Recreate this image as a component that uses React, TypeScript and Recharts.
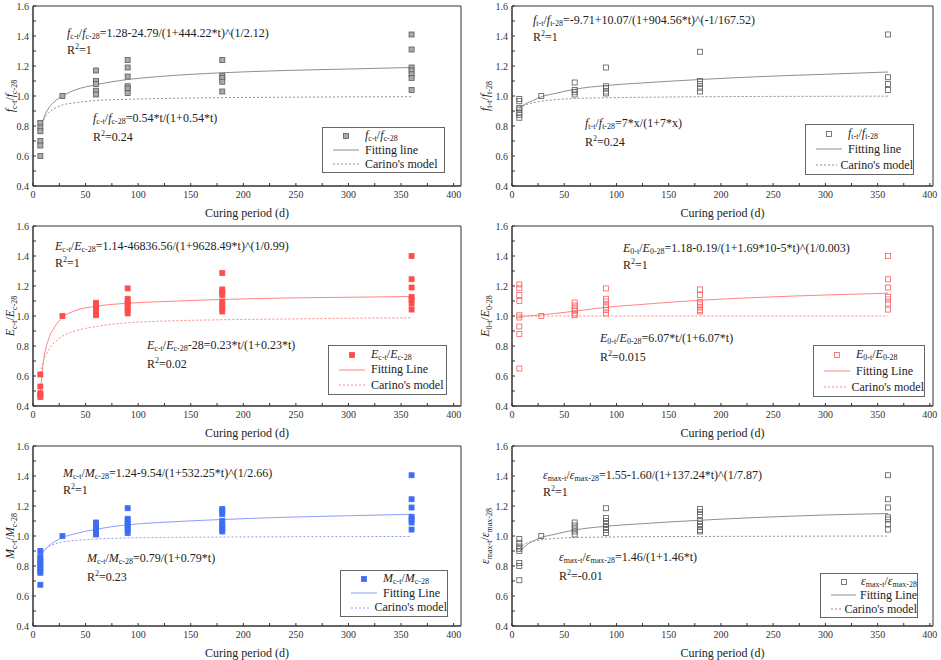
import React from "react";
import { ComposedChart, Line, Scatter, XAxis, YAxis, ReferenceArea } from "recharts";

const FONT = '"Liberation Serif", "Times New Roman", serif';

// curing ages (d) of the measured points
const AGES = [7, 28, 60, 90, 180, 360];
const CURVE_T = [7, 10, 15, 20, 28, 40, 60, 90, 120, 180, 240, 300, 360];

const X_TICKS = [0, 25, 50, 75, 100, 125, 150, 175, 200, 225, 250, 275, 300, 325, 350, 375, 400];
const Y_TICKS = [0.4, 0.5, 0.6, 0.7, 0.8, 0.9, 1.0, 1.1, 1.2, 1.3, 1.4, 1.5, 1.6];

// compressive strength
const FC_MEASURED = [
  [0.82, 0.79, 0.765, 0.7, 0.67, 0.6],
  [1.0],
  [1.17, 1.1, 1.08, 1.035, 1.01],
  [1.24, 1.19, 1.13, 1.065, 1.05, 1.02],
  [1.24, 1.135, 1.12, 1.095, 1.03],
  [1.41, 1.31, 1.19, 1.17, 1.145, 1.12, 1.04],
];
const FC_FIT = [0.78, 0.85, 0.92, 0.96, 1.0, 1.04, 1.075, 1.11, 1.13, 1.155, 1.17, 1.18, 1.19];
const FC_CARINO = [0.79, 0.84, 0.89, 0.915, 0.94, 0.955, 0.97, 0.978, 0.983, 0.989, 0.992, 0.994, 0.995];

// tensile strength
const FT_MEASURED = [
  [0.98, 0.965, 0.92, 0.91, 0.89, 0.875, 0.855],
  [1.0],
  [1.09, 1.04, 1.025, 1.01],
  [1.19, 1.065, 1.05, 1.03, 1.017],
  [1.295, 1.1, 1.08, 1.055, 1.03],
  [1.41, 1.125, 1.08, 1.04],
];
const FT_FIT = [0.92, 0.935, 0.955, 0.97, 0.995, 1.015, 1.045, 1.07, 1.085, 1.11, 1.13, 1.145, 1.16];
const FT_CARINO = [0.915, 0.93, 0.945, 0.955, 0.965, 0.975, 0.983, 0.988, 0.991, 0.995, 0.997, 0.998, 0.999];

// elastic modulus
const EC_MEASURED = [
  [0.61, 0.53, 0.485, 0.475, 0.46],
  [1.0],
  [1.088, 1.07, 1.05, 1.035, 1.017, 1.005],
  [1.184, 1.115, 1.097, 1.08, 1.057, 1.035, 1.017],
  [1.286, 1.177, 1.16, 1.14, 1.097, 1.072, 1.05, 1.03],
  [1.4, 1.245, 1.19, 1.128, 1.11, 1.083, 1.043],
];
const EC_FIT = [0.5, 0.7, 0.85, 0.92, 0.99, 1.035, 1.065, 1.085, 1.095, 1.11, 1.12, 1.125, 1.13];
const EC_CARINO = [0.62, 0.7, 0.775, 0.82, 0.865, 0.9, 0.93, 0.955, 0.965, 0.975, 0.98, 0.985, 0.988];

// initial modulus
const E0_MEASURED = [
  [1.21, 1.185, 1.14, 1.1, 1.005, 0.99, 0.93, 0.88, 0.65],
  [1.0],
  [1.09, 1.07, 1.05, 1.035, 1.017, 1.005],
  [1.184, 1.115, 1.097, 1.072, 1.057, 1.04, 1.017],
  [1.177, 1.14, 1.095, 1.077, 1.057, 1.04, 1.03],
  [1.4, 1.245, 1.19, 1.128, 1.11, 1.083, 1.043],
];
const E0_FIT = [0.995, 0.998, 1.0, 1.003, 1.008, 1.016, 1.032, 1.058, 1.075, 1.105, 1.125, 1.14, 1.152];
const E0_CARINO = [0.997, 0.998, 0.999, 0.999, 1.0, 1.0, 1.0, 1.0, 1.0, 1.0, 1.0, 1.0, 1.0];

// M
const MC_MEASURED = [
  [0.9, 0.86, 0.845, 0.825, 0.81, 0.79, 0.77, 0.755, 0.675],
  [1.0],
  [1.09, 1.07, 1.055, 1.04, 1.02, 1.01],
  [1.185, 1.115, 1.1, 1.08, 1.06, 1.04, 1.02],
  [1.18, 1.165, 1.145, 1.1, 1.08, 1.06, 1.045, 1.03],
  [1.405, 1.245, 1.19, 1.128, 1.11, 1.09, 1.043],
];
const MC_FIT = [0.86, 0.895, 0.935, 0.96, 0.99, 1.015, 1.045, 1.075, 1.09, 1.11, 1.125, 1.135, 1.145];
const MC_CARINO = [0.87, 0.9, 0.93, 0.945, 0.96, 0.97, 0.98, 0.987, 0.99, 0.993, 0.995, 0.996, 0.997];

// peak strain
const EM_MEASURED = [
  [0.98, 0.955, 0.93, 0.915, 0.9, 0.82, 0.8, 0.705],
  [1.0],
  [1.09, 1.07, 1.05, 1.03, 1.01],
  [1.185, 1.12, 1.1, 1.08, 1.06, 1.04, 1.02],
  [1.18, 1.16, 1.14, 1.1, 1.08, 1.06, 1.04, 1.03],
  [1.405, 1.245, 1.19, 1.125, 1.11, 1.08, 1.043],
];
const EM_FIT = [0.895, 0.915, 0.945, 0.965, 0.99, 1.01, 1.04, 1.065, 1.08, 1.105, 1.125, 1.14, 1.15];
const EM_CARINO = [0.915, 0.935, 0.955, 0.965, 0.975, 0.983, 0.99, 0.993, 0.995, 0.997, 0.998, 0.999, 1.0];

const toPoints = (measured: number[][]) => AGES.flatMap((t, i) => measured[i].map((v) => ({ t, v })));
const toCurve = (fit: number[], carino: number[]) => CURVE_T.map((t, i) => ({ t, fit: fit[i], carino: carino[i] }));

const GRAY = { fill: "#ababab", stroke: "#5a5a5a", line: "#8f8f8f" };
const GRAY_OPEN = { fill: "none", stroke: "#5a5a5a", line: "#8f8f8f" };
const RED = { fill: "#ff4d4d", stroke: "#ff4d4d", line: "#ff8585" };
const RED_OPEN = { fill: "none", stroke: "#ff5c5c", line: "#ff8585" };
const BLUE = { fill: "#3d6df2", stroke: "#3d6df2", line: "#8c9df7" };

const PANELS = [
  {
    key: "fc", left: 0, top: 0, width: 470, yw: 33, rm: 9, xMax: 407, titleX: 10,
    s: "f", a: "c-t", b: "c-28", color: GRAY, fitLabel: "Fitting line",
    points: toPoints(FC_MEASURED), curve: toCurve(FC_FIT, FC_CARINO),
    eq1: "=1.28-24.79/(1+444.22*t)^(1/2.12)", r1: "1", eq2: "=0.54*t/(1+0.54*t)", r2: "0.24",
    e1: [67, 26], e2: [93, 111], lg: [322, 127, 123, 46],
  },
  {
    key: "ft", left: 470, top: 0, width: 471, yw: 42, rm: 8, xMax: 403, titleX: 15,
    s: "f", a: "t-t", b: "t-28", color: GRAY_OPEN, fitLabel: "Fitting line",
    points: toPoints(FT_MEASURED), curve: toCurve(FT_FIT, FT_CARINO),
    eq1: "=-9.71+10.07/(1+904.56*t)^(-1/167.52)", r1: "1", eq2: "=7*x/(1+7*x)", r2: "0.24",
    e1: [63, 13], e2: [115, 116], lg: [335, 124, 109, 51],
  },
  {
    key: "ec", left: 0, top: 220, width: 470, yw: 33, rm: 9, xMax: 407, titleX: 10,
    s: "E", a: "c-t", b: "c-28", color: RED, fitLabel: "Fitting Line",
    points: toPoints(EC_MEASURED), curve: toCurve(EC_FIT, EC_CARINO),
    eq1: "=1.14-46836.56/(1+9628.49*t)^(1/0.99)", r1: "1", eq2: "-28=0.23*t/(1+0.23*t)", r2: "0.02",
    e1: [55, 19], e2: [147, 118], lg: [328, 125, 119, 50],
  },
  {
    key: "e0", left: 470, top: 220, width: 471, yw: 42, rm: 8, xMax: 403, titleX: 15,
    s: "E", a: "0-t", b: "0-28", color: RED_OPEN, fitLabel: "Fitting Line",
    points: toPoints(E0_MEASURED), curve: toCurve(E0_FIT, E0_CARINO),
    eq1: "=1.18-0.19/(1+1.69*10-5*t)^(1/0.003)", r1: "1", eq2: "=6.07*t/(1+6.07*t)", r2: "0.015",
    e1: [153, 21], e2: [130, 111], lg: [343, 125, 112, 52],
  },
  {
    key: "mc", left: 0, top: 440, width: 470, yw: 33, rm: 9, xMax: 407, titleX: 10,
    s: "M", a: "c-t", b: "c-28", color: BLUE, fitLabel: "Fitting Line",
    points: toPoints(MC_MEASURED), curve: toCurve(MC_FIT, MC_CARINO),
    eq1: "=1.24-9.54/(1+532.25*t)^(1/2.66)", r1: "1", eq2: "=0.79/(1+0.79*t)", r2: "0.23",
    e1: [63, 26], e2: [87, 111], lg: [340, 130, 108, 47],
  },
  {
    key: "em", left: 470, top: 440, width: 471, yw: 42, rm: 8, xMax: 403, titleX: 15,
    s: "\u03b5", a: "max-t", b: "max-28", color: GRAY_OPEN, fitLabel: "Fitting Line",
    points: toPoints(EM_MEASURED), curve: toCurve(EM_FIT, EM_CARINO),
    eq1: "=1.55-1.60/(1+137.24*t)^(1/7.87)", r1: "1", eq2: "=1.46/(1+1.46*t)", r2: "-0.01",
    e1: [73, 28], e2: [89, 110], lg: [350, 133, 98, 45],
  },
];

const Sub = ({ children }: any) => (
  <span style={{ fontSize: 8, lineHeight: "8px", verticalAlign: "-2px" }}>{children}</span>
);

const Ratio = ({ s, a, b }: any) => (
  <>
    <i>{s}</i>
    <Sub>{a}</Sub>/<i>{s}</i>
    <Sub>{b}</Sub>
  </>
);

// rotated y title with subscripts
const YTitle = ({ viewBox, s, a, b, lx }: any) => {
  const cy = viewBox ? viewBox.y + viewBox.height / 2 : 96;
  const x = lx + 4;
  return (
    <text x={x} y={cy} transform={`rotate(-90 ${x} ${cy})`} textAnchor="middle" fontFamily={FONT} fontSize={12} fill="#222">
      <tspan fontStyle="italic">{s}</tspan>
      <tspan fontSize={8} dy={3}>{a}</tspan>
      <tspan dy={-3}>/</tspan>
      <tspan fontStyle="italic">{s}</tspan>
      <tspan fontSize={8} dy={3}>{b}</tspan>
    </text>
  );
};

const square = (c: any) => (props: any) =>
  <rect x={props.cx - 2.5} y={props.cy - 2.5} width={5} height={5} fill={c.fill} stroke={c.stroke} strokeWidth={0.8} />;

const tickStyle = { fontSize: 10, fill: "#333", fontFamily: FONT };

function Panel({ p }: any) {
  const c = p.color;
  const [lx, ly, lw, lh] = p.lg;
  const textStyle: React.CSSProperties = { position: "absolute", whiteSpace: "nowrap", fontSize: 12, lineHeight: "14px", color: "#222" };
  const sup = <sup style={{ fontSize: 8, lineHeight: "8px", verticalAlign: "5px" }}>2</sup>;
  const row: React.CSSProperties = { display: "flex", alignItems: "center", height: 13, whiteSpace: "nowrap", lineHeight: "13px" };
  return (
    <div style={{ position: "absolute", left: p.left, top: p.top, width: p.width, height: 220 }}>
      <ComposedChart width={p.width} height={220} data={p.curve} margin={{ top: 6, right: p.rm, bottom: 0, left: 0 }}>
        <XAxis
          type="number"
          dataKey="t"
          domain={[0, p.xMax]}
          ticks={X_TICKS}
          interval={0}
          allowDataOverflow
          height={34}
          tickSize={-3}
          tickMargin={8}
          stroke="#333"
          tick={tickStyle}
          tickFormatter={(v: number) => (v % 50 === 0 ? String(v) : "")}
          label={{ value: "Curing period (d)", position: "insideBottom", offset: 3, fontSize: 12, fill: "#222", fontFamily: FONT }}
        />
        <YAxis
          type="number"
          domain={[0.4, 1.6]}
          ticks={Y_TICKS}
          interval={0}
          allowDataOverflow
          width={p.yw}
          tickSize={-3}
          tickMargin={7}
          stroke="#333"
          tick={tickStyle}
          tickFormatter={(v: number) => (Math.round(v * 10) % 2 === 0 ? v.toFixed(1) : "")}
          label={<YTitle s={p.s} a={p.a} b={p.b} lx={p.titleX} />}
        />
        <ReferenceArea x1={0} x2={p.xMax} y1={0.4} y2={1.6} fill="none" fillOpacity={0} stroke="#333" strokeWidth={1} ifOverflow="visible" />
        <Line dataKey="carino" type="monotone" dot={false} stroke={c.line} strokeWidth={1} strokeDasharray="2 2" isAnimationActive={false} />
        <Line dataKey="fit" type="monotone" dot={false} stroke={c.line} strokeWidth={1} isAnimationActive={false} />
        <Scatter data={p.points} dataKey="v" shape={square(c)} isAnimationActive={false} />
      </ComposedChart>

      <div style={{ ...textStyle, left: p.e1[0], top: p.e1[1] }}>
        <Ratio s={p.s} a={p.a} b={p.b} />
        {p.eq1}
      </div>
      <div style={{ ...textStyle, left: p.e1[0], top: p.e1[1] + 17 }}>
        R{sup}={p.r1}
      </div>
      <div style={{ ...textStyle, left: p.e2[0], top: p.e2[1] }}>
        <Ratio s={p.s} a={p.a} b={p.b} />
        {p.eq2}
      </div>
      <div style={{ ...textStyle, left: p.e2[0], top: p.e2[1] + 19 }}>
        R{sup}={p.r2}
      </div>

      <div
        style={{
          position: "absolute", left: lx, top: ly, width: lw, height: lh, boxSizing: "border-box",
          border: "1px solid #666", background: "#fff", fontSize: 12, color: "#222",
          display: "flex", flexDirection: "column", justifyContent: "space-around", padding: "1px 0 1px 8px",
        }}
      >
        <div style={row}>
          <svg width={30} height={12} style={{ marginRight: 4 }}>
            <rect x={12.5} y={3.5} width={5} height={5} fill={c.fill} stroke={c.stroke} strokeWidth={0.8} />
          </svg>
          <span><Ratio s={p.s} a={p.a} b={p.b} /></span>
        </div>
        <div style={row}>
          <svg width={30} height={12} style={{ marginRight: 4 }}>
            <line x1={2} y1={6} x2={28} y2={6} stroke={c.line} strokeWidth={1} />
          </svg>
          <span>{p.fitLabel}</span>
        </div>
        <div style={row}>
          <svg width={30} height={12} style={{ marginRight: 4 }}>
            <line x1={2} y1={6} x2={28} y2={6} stroke={c.line} strokeWidth={1} strokeDasharray="2 2" />
          </svg>
          <span>Carino's model</span>
        </div>
      </div>
    </div>
  );
}

export default function App() {
  return (
    <div style={{ position: "relative", width: 941, height: 660, background: "#fff", fontFamily: FONT, overflow: "hidden" }}>
      <style>{"body{margin:0}"}</style>
      {PANELS.map((p) => (
        <Panel key={p.key} p={p} />
      ))}
    </div>
  );
}
